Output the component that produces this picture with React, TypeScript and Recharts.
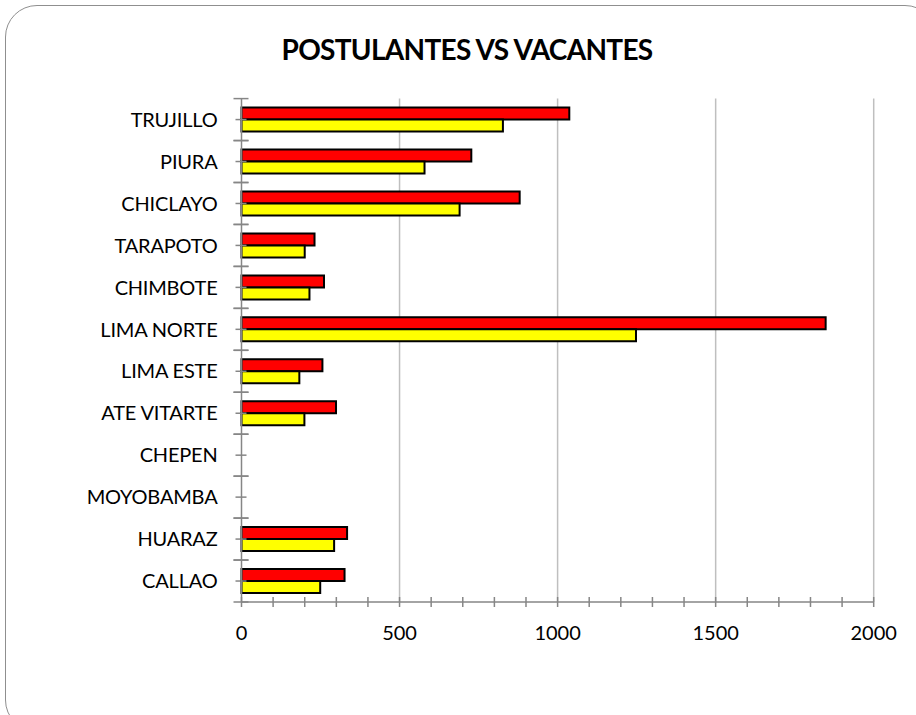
import { BarChart, Bar, XAxis, YAxis, CartesianGrid } from "recharts";

const categories = [
  "TRUJILLO",
  "PIURA",
  "CHICLAYO",
  "TARAPOTO",
  "CHIMBOTE",
  "LIMA NORTE",
  "LIMA ESTE",
  "ATE VITARTE",
  "CHEPEN",
  "MOYOBAMBA",
  "HUARAZ",
  "CALLAO",
];
const postulantes = [1037, 727, 880, 231, 261, 1848, 256, 299, 0, 0, 334, 326];
const vacantes = [827, 579, 690, 200, 215, 1248, 183, 199, 0, 0, 293, 249];

const xTicks = [
  0, 100, 200, 300, 400, 500, 600, 700, 800, 900, 1000, 1100, 1200, 1300,
  1400, 1500, 1600, 1700, 1800, 1900, 2000,
];
const xLabels = [0, 500, 1000, 1500, 2000];
const gridValues = [500, 1000, 1500, 2000];

const data = categories.map((name, i) => ({
  name,
  postulantes: postulantes[i],
  vacantes: vacantes[i],
}));

const W = 916;
const H = 715;
const PLOT_TOP = 98.6;
const PLOT_BOTTOM = 602;
const AXIS_GREY = "#868686";
const FONT = "Lato, 'Open Sans', sans-serif";
const band = (PLOT_BOTTOM - PLOT_TOP) / categories.length;

function XTick(props: any) {
  const { x, y, payload } = props;
  const show = xLabels.includes(payload.value);
  return (
    <g>
      <line x1={x} x2={x} y1={y - 5} y2={y + 5} stroke={AXIS_GREY} strokeWidth={1.5} />
      {show && (
        <text
          x={x}
          y={y + 30.5}
          dy="0.36em"
          textAnchor="middle"
          fontSize={20}
          fontFamily={FONT}
          fill="#000"
        >
          {payload.value}
        </text>
      )}
    </g>
  );
}

function YTick(props: any) {
  const { x, y, payload } = props;
  return (
    <g>
      <line x1={x - 6} x2={x + 5} y1={y} y2={y} stroke={AXIS_GREY} strokeWidth={1.5} />
      <line x1={x - 8} x2={x + 7} y1={y - band / 2} y2={y - band / 2} stroke={AXIS_GREY} strokeWidth={1.5} />
      <line x1={x - 8} x2={x + 7} y1={y + band / 2} y2={y + band / 2} stroke={AXIS_GREY} strokeWidth={1.5} />
      <text
        x={x - 24}
        y={y}
        dy="0.36em"
        textAnchor="end"
        fontSize={20}
        letterSpacing={-0.2}
        fontFamily={FONT}
        fill="#000"
      >
        {payload.value}
      </text>
    </g>
  );
}

export default function App() {
  return (
    <div
      style={{
        position: "absolute",
        left: 0,
        top: 0,
        width: W,
        height: H,
        overflow: "hidden",
        background: "#fff",
      }}
    >
      <div
        style={{
          position: "absolute",
          left: 5,
          top: 5,
          width: 930,
          height: 725,
          border: "1.5px solid #8f8f8f",
          borderRadius: 32,
        }}
      />
      <div
        style={{
          position: "absolute",
          left: 0,
          top: 32,
          width: 934,
          textAlign: "center",
          fontFamily: FONT,
          fontWeight: 700,
          fontSize: 28,
          letterSpacing: "-0.7px",
          lineHeight: "34px",
          color: "#000",
        }}
      >
        POSTULANTES VS VACANTES
      </div>
      <div style={{ position: "absolute", left: 0, top: 0 }}>
        <BarChart
          width={W}
          height={H}
          data={data}
          layout="vertical"
          margin={{ top: PLOT_TOP, right: 42.3, bottom: 0, left: 0 }}
          barGap={0}
          barSize={12}
        >
          <CartesianGrid
            horizontal={false}
            vertical
            verticalValues={gridValues}
            stroke="#bfbfbf"
            strokeWidth={1.5}
          />
          <XAxis
            type="number"
            domain={[0, 2000]}
            ticks={xTicks}
            interval={0}
            height={H - PLOT_BOTTOM}
            axisLine={{ stroke: AXIS_GREY, strokeWidth: 1.5 }}
            tickLine={false}
            tickSize={0}
            tickMargin={0}
            tick={<XTick />}
          />
          <YAxis
            type="category"
            dataKey="name"
            width={241.5}
            interval={0}
            axisLine={{ stroke: AXIS_GREY, strokeWidth: 1.5 }}
            tickLine={false}
            tickSize={0}
            tickMargin={0}
            tick={<YTick />}
          />
          <Bar
            dataKey="postulantes"
            fill="#FF0000"
            stroke="#000"
            strokeWidth={2}
            isAnimationActive={false}
          />
          <Bar
            dataKey="vacantes"
            fill="#FFFF00"
            stroke="#000"
            strokeWidth={2}
            isAnimationActive={false}
          />
        </BarChart>
      </div>
    </div>
  );
}
